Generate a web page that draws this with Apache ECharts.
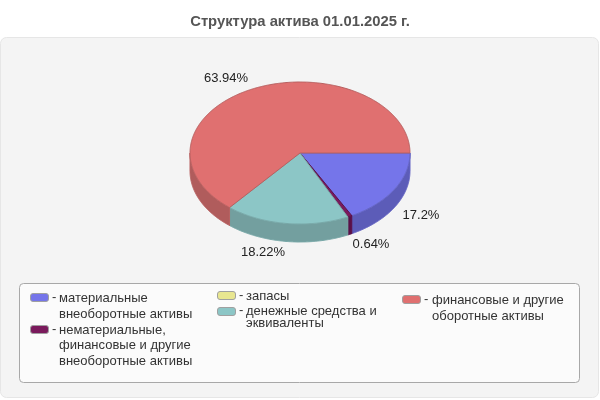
<!DOCTYPE html>
<html><head><meta charset="utf-8">
<style>html,body{margin:0;padding:0;background:#fff}#c{width:600px;height:400px}</style>
<script src="https://cdn.jsdelivr.net/npm/echarts@6/dist/echarts.min.js"></script>
</head><body><div id="c"></div>
<script>
const titleText = 'Структура актива 01.01.2025 г.';
const categories = ['материальные внеоборотные активы','нематериальные, финансовые и другие внеоборотные активы','запасы','денежные средства и эквиваленты','финансовые и другие оборотные активы'];
const values = [17.2, 0.64, 0, 18.22, 63.94];
const valueLabels = ['17.2%', '0.64%', '', '18.22%', '63.94%'];
const topColors = ['#7575ea', '#7a1a5c', '#e8e690', '#8cc6c6', '#e07070'];
const sideColors = ['#5c5cb8', '#5a1048', '#b0ae6c', '#739f9f', '#b05c5c'];
const edgeColors = ['#6464c4', '#5a1048', '#b0ae6c', '#78a8a8', '#b86060'];
const legendLines = [
  ['материальные', 'внеоборотные активы'],
  ['нематериальные,', 'финансовые и другие', 'внеоборотные активы'],
  ['запасы'],
  ['денежные средства и', 'эквиваленты'],
  ['финансовые и другие', 'оборотные активы']
];

// layout, kept apart from the data
const FONT = '"Liberation Sans", Arial, sans-serif';
const cx = 300, cy = 153, rx = 110, ry = 71, depth = 18;
const labelPos = [[421,215],[371,244],null,[263,252],[226,78]];
const legendLayout = [
  {sx:30, sy:293, dx:52, tx:59, ys:[298,314]},
  {sx:30, sy:325, dx:52, tx:59, ys:[330,345,361]},
  {sx:217, sy:291, dx:239, tx:246, ys:[296]},
  {sx:217, sy:307, dx:239, tx:246, ys:[311,323]},
  {sx:402, sy:295, dx:424, tx:432, ys:[300,316]}
];

const total = values.reduce((a,b)=>a+b,0);
const starts = []; values.reduce((acc,v,i)=>{starts[i]=acc; return acc+v/total*Math.PI*2;},0);
function rim(a, dy){ return [cx+rx*Math.cos(a), cy+ry*Math.sin(a)+dy]; }
function arcPts(a0,a1,dy){ const n=Math.max(2,Math.ceil((a1-a0)/0.01)); const p=[]; for(let i=0;i<=n;i++) p.push(rim(a0+(a1-a0)*i/n,dy)); return p; }

function renderItem(params, api){
  const i = params.dataIndex, v = api.value(0);
  if(!v) return {type:'group',children:[]};
  const a0 = starts[i], a1 = a0 + v/total*Math.PI*2;
  const children = [];
  const s0 = Math.max(a0,0), s1 = Math.min(a1,Math.PI);
  if(s1 > s0){
    const top = arcPts(s0,s1,0), bottom = arcPts(s0,s1,depth).reverse();
    children.push({type:'polygon',shape:{points:top.concat(bottom)},style:{fill:sideColors[i],stroke:edgeColors[i],lineWidth:1}});
  }
  children.push({type:'polygon',shape:{points:[[cx,cy]].concat(arcPts(a0,a1,0))},style:{fill:topColors[i],stroke:edgeColors[i],lineWidth:1,lineJoin:'round'}});
  const lp = labelPos[i];
  children.push({type:'text',style:{text:valueLabels[i],x:lp[0],y:lp[1],align:'center',verticalAlign:'middle',fill:'#222',font:'13px '+FONT},z2:20});
  return {type:'group',children};
}

const graphic = [
  {type:'rect',shape:{x:0.5,y:37.5,width:598,height:360,r:6},style:{fill:'#f4f4f4',stroke:'#e6e6e6',lineWidth:1},silent:true},
  {type:'rect',shape:{x:19.5,y:283.5,width:560,height:99,r:4},style:{fill:'#fbfbfb',stroke:'#a8a8a8',lineWidth:1},silent:true,z:1}
];
categories.forEach((c,i)=>{
  const L = legendLayout[i];
  graphic.push({type:'rect',z:2,shape:{x:L.sx+0.5,y:L.sy+0.5,width:18,height:8,r:2.5},style:{fill:topColors[i],stroke:'#a0a0a0',lineWidth:1}});
  graphic.push({type:'text',z:2,style:{text:'-',x:L.dx,y:L.ys[0]-1,verticalAlign:'middle',fill:'#333',font:'13px '+FONT}});
  legendLines[i].forEach((t,k)=>graphic.push({type:'text',z:2,style:{text:t,x:L.tx,y:L.ys[k],verticalAlign:'middle',fill:'#333',font:'13px '+FONT}}));
});

const chart = echarts.init(document.getElementById('c'),null,{renderer:'canvas'});
chart.setOption({
  animation:false,
  backgroundColor:'#ffffff',
  title:{text:titleText,left:'center',top:9,textStyle:{fontFamily:FONT,fontSize:14.8,fontWeight:'bold',color:'#555'}},
  graphic,
  series:[{type:'custom',coordinateSystem:'none',silent:true,renderItem,data:values.map((v,i)=>({name:categories[i],value:[v]})),encode:{value:0}}]
});
</script></body></html>
